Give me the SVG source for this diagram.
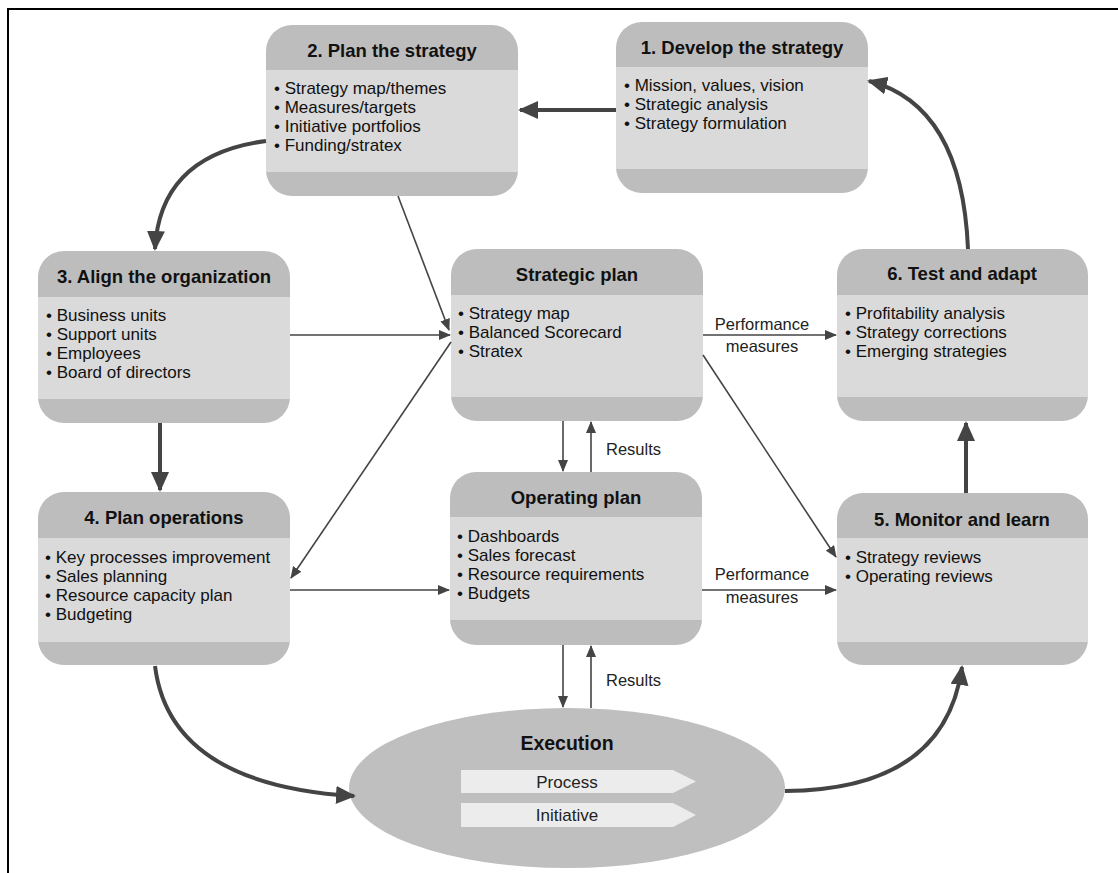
<svg xmlns="http://www.w3.org/2000/svg" width="1118" height="873" viewBox="0 0 1118 873">
  <defs>
    <style>
      .hdr { fill: #bdbdbd; }
      .body { fill: #dadada; }
      .title { font-family: "Liberation Sans", Arial, sans-serif; font-weight: bold; font-size: 18.5px; fill: #111; text-anchor: middle; }
      .item { font-family: "Liberation Sans", Arial, sans-serif; font-size: 17px; fill: #111; }
      .lbl { font-family: "Liberation Sans", Arial, sans-serif; font-size: 16.5px; fill: #222; }
      .thick { fill: none; stroke: #444; stroke-width: 4; }
      .thin { fill: none; stroke: #444; stroke-width: 1.6; }
    </style>
    <clipPath id="c2"><rect x="266" y="25" width="252" height="171" rx="26"/></clipPath>
    <clipPath id="c1"><rect x="616" y="22" width="252" height="171" rx="26"/></clipPath>
    <clipPath id="c3"><rect x="38" y="251" width="252" height="172" rx="26"/></clipPath>
    <clipPath id="cs"><rect x="451" y="249" width="252" height="172" rx="26"/></clipPath>
    <clipPath id="c6"><rect x="837" y="249" width="251" height="172" rx="26"/></clipPath>
    <clipPath id="c4"><rect x="38" y="492" width="252" height="173" rx="26"/></clipPath>
    <clipPath id="co"><rect x="450" y="472" width="252" height="173" rx="26"/></clipPath>
    <clipPath id="c5"><rect x="837" y="493" width="251" height="172" rx="26"/></clipPath>
    <marker id="ahBig" markerUnits="userSpaceOnUse" markerWidth="20" markerHeight="18" refX="18" refY="9" orient="auto">
      <path d="M0,0 L20,9 L0,18 Z" fill="#444"/>
    </marker>
    <marker id="ahSmall" markerUnits="userSpaceOnUse" markerWidth="12" markerHeight="10" refX="11" refY="5" orient="auto">
      <path d="M0,0 L12,5 L0,10 Z" fill="#444"/>
    </marker>
  </defs>

  <rect width="1118" height="873" fill="#fff"/>
  <!-- page frame -->
  <path d="M8,873 V9 H1118" fill="none" stroke="#000" stroke-width="2"/>

  <!-- Node 2 -->
  <g id="node-plan-strategy" clip-path="url(#c2)">
    <rect class="hdr" x="266" y="25" width="252" height="171"/>
    <rect class="body" x="266" y="70" width="252" height="102"/>
    <text class="title" x="392" y="57">2. Plan the strategy</text>
    <text class="item" x="274" y="94">• Strategy map/themes</text>
    <text class="item" x="274" y="113">• Measures/targets</text>
    <text class="item" x="274" y="132">• Initiative portfolios</text>
    <text class="item" x="274" y="151">• Funding/stratex</text>
  </g>

  <!-- Node 1 -->
  <g id="node-develop-strategy" clip-path="url(#c1)">
    <rect class="hdr" x="616" y="22" width="252" height="171"/>
    <rect class="body" x="616" y="67" width="252" height="102"/>
    <text class="title" x="742" y="54">1. Develop the strategy</text>
    <text class="item" x="624" y="91">• Mission, values, vision</text>
    <text class="item" x="624" y="110">• Strategic analysis</text>
    <text class="item" x="624" y="129">• Strategy formulation</text>
  </g>

  <!-- Node 3 -->
  <g id="node-align-organization" clip-path="url(#c3)">
    <rect class="hdr" x="38" y="251" width="252" height="172"/>
    <rect class="body" x="38" y="297" width="252" height="102"/>
    <text class="title" x="164" y="283">3. Align the organization</text>
    <text class="item" x="46" y="321">• Business units</text>
    <text class="item" x="46" y="340">• Support units</text>
    <text class="item" x="46" y="359">• Employees</text>
    <text class="item" x="46" y="378">• Board of directors</text>
  </g>

  <!-- Strategic plan -->
  <g id="node-strategic-plan" clip-path="url(#cs)">
    <rect class="hdr" x="451" y="249" width="252" height="172"/>
    <rect class="body" x="451" y="295" width="252" height="102"/>
    <text class="title" x="577" y="281">Strategic plan</text>
    <text class="item" x="458" y="319">• Strategy map</text>
    <text class="item" x="458" y="338">• Balanced Scorecard</text>
    <text class="item" x="458" y="357">• Stratex</text>
  </g>

  <!-- Node 6 -->
  <g id="node-test-adapt" clip-path="url(#c6)">
    <rect class="hdr" x="837" y="249" width="251" height="172"/>
    <rect class="body" x="837" y="295" width="251" height="102"/>
    <text class="title" x="962" y="280">6. Test and adapt</text>
    <text class="item" x="845" y="319">• Profitability analysis</text>
    <text class="item" x="845" y="338">• Strategy corrections</text>
    <text class="item" x="845" y="357">• Emerging strategies</text>
  </g>

  <!-- Node 4 -->
  <g id="node-plan-operations" clip-path="url(#c4)">
    <rect class="hdr" x="38" y="492" width="252" height="173"/>
    <rect class="body" x="38" y="538" width="252" height="104"/>
    <text class="title" x="164" y="524">4. Plan operations</text>
    <text class="item" x="45" y="563">• Key processes improvement</text>
    <text class="item" x="45" y="582">• Sales planning</text>
    <text class="item" x="45" y="601">• Resource capacity plan</text>
    <text class="item" x="45" y="620">• Budgeting</text>
  </g>

  <!-- Operating plan -->
  <g id="node-operating-plan" clip-path="url(#co)">
    <rect class="hdr" x="450" y="472" width="252" height="173"/>
    <rect class="body" x="450" y="517" width="252" height="103"/>
    <text class="title" x="576" y="504">Operating plan</text>
    <text class="item" x="457" y="542">• Dashboards</text>
    <text class="item" x="457" y="561">• Sales forecast</text>
    <text class="item" x="457" y="580">• Resource requirements</text>
    <text class="item" x="457" y="599">• Budgets</text>
  </g>

  <!-- Node 5 -->
  <g id="node-monitor-learn" clip-path="url(#c5)">
    <rect class="hdr" x="837" y="493" width="251" height="172"/>
    <rect class="body" x="837" y="538" width="251" height="104"/>
    <text class="title" x="962" y="526">5. Monitor and learn</text>
    <text class="item" x="845" y="563">• Strategy reviews</text>
    <text class="item" x="845" y="582">• Operating reviews</text>
  </g>

  <!-- Execution -->
  <g id="node-execution">
    <ellipse cx="567" cy="788" rx="218" ry="80" fill="#bfbfbf"/>
    <text class="title" x="567" y="750" style="font-size:19.5px">Execution</text>
    <path d="M461,770 H673 L696,781.5 L673,793 H461 Z" fill="#ececec"/>
    <text class="lbl" x="567" y="788" text-anchor="middle" style="font-size:17px">Process</text>
    <path d="M461,803 H673 L696,815 L673,827 H461 Z" fill="#ececec"/>
    <text class="lbl" x="567" y="821" text-anchor="middle" style="font-size:17px">Initiative</text>
  </g>

  <!-- Connectors -->
  <g id="connectors">
    <!-- main cycle -->
    <path class="thick" d="M616,110 H520" marker-end="url(#ahBig)"/>
    <path class="thick" d="M266,141 Q160,155 155,249" marker-end="url(#ahBig)"/>
    <path class="thick" d="M160,423 V490" marker-end="url(#ahBig)"/>
    <path class="thick" d="M155,666 Q170,785 354,796" marker-end="url(#ahBig)"/>
    <path class="thick" d="M785,791 Q945,790 962,667" marker-end="url(#ahBig)"/>
    <path class="thick" d="M966,493 V423" marker-end="url(#ahBig)"/>
    <path class="thick" d="M968,249 Q962,105 869,81" marker-end="url(#ahBig)"/>

    <!-- plan links -->
    <path class="thin" d="M398,196 L449,330" marker-end="url(#ahSmall)"/>
    <path class="thin" d="M290,335 H450" marker-end="url(#ahSmall)"/>
    <path class="thin" d="M451,342 L291,578" marker-end="url(#ahSmall)"/>
    <path class="thin" d="M290,590 H449" marker-end="url(#ahSmall)"/>
    <path class="thin" d="M703,335 H836" marker-end="url(#ahSmall)"/>
    <path class="thin" d="M703,355 L836,557" marker-end="url(#ahSmall)"/>
    <path class="thin" d="M702,590 H836" marker-end="url(#ahSmall)"/>

    <!-- plan / results loops -->
    <path class="thin" d="M563,421 V471" marker-end="url(#ahSmall)"/>
    <path class="thin" d="M591,472 V422" marker-end="url(#ahSmall)"/>
    <path class="thin" d="M563,645 V707" marker-end="url(#ahSmall)"/>
    <path class="thin" d="M591,708 V646" marker-end="url(#ahSmall)"/>

    <text class="lbl" x="762" y="330" text-anchor="middle">Performance</text>
    <text class="lbl" x="762" y="352" text-anchor="middle">measures</text>
    <text class="lbl" x="762" y="580" text-anchor="middle">Performance</text>
    <text class="lbl" x="762" y="603" text-anchor="middle">measures</text>
    <text class="lbl" x="606" y="455">Results</text>
    <text class="lbl" x="606" y="686">Results</text>
  </g>
</svg>
